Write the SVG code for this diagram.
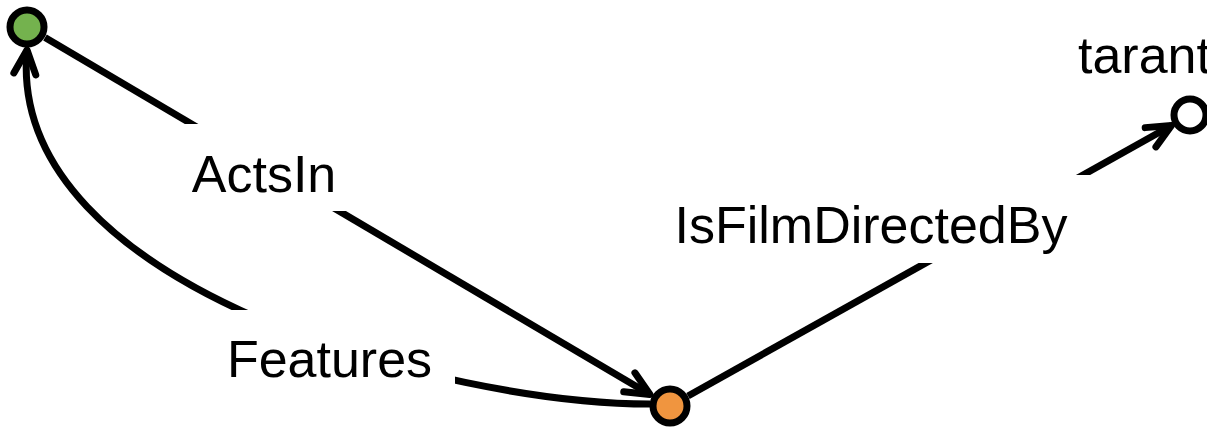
<svg xmlns="http://www.w3.org/2000/svg" width="1207" height="430" viewBox="0 0 1207 430">
  <style>
    .edge { fill: none; stroke: #000; stroke-width: 7; stroke-linecap: butt; }
    .lbl-bg { fill: #fff; stroke: none; }
    .lbl { font-family: "Liberation Sans", Arial, sans-serif; font-size: 52px; fill: #000; text-anchor: middle; }
    .node { stroke: #000; stroke-width: 7; }
  </style>
  <defs>
    <marker id="arrow" markerUnits="userSpaceOnUse" markerWidth="60" markerHeight="60" refX="0" refY="0" viewBox="-30 -30 60 60" orient="auto" overflow="visible">
      <path d="M-24,-11 L0,0 L-24,11" fill="none" stroke="#000" stroke-width="7" stroke-linecap="round" stroke-linejoin="round"/>
    </marker>
  </defs>
  <rect width="1207" height="430" fill="#fff"/>
  <g id="connectors">
    <g id="edge-actsin">
      <line class="edge" x1="45" y1="37.5" x2="650" y2="394.5" marker-end="url(#arrow)"/>
      <rect class="lbl-bg" x="169" y="124" width="190" height="87"/>
      <text class="lbl" x="264" y="192">ActsIn</text>
    </g>
    <g id="edge-features">
      <path class="edge" d="M650,404 C450,404 5,290 27,50" marker-end="url(#arrow)"/>
      <rect class="lbl-bg" x="204" y="310" width="251" height="86"/>
      <text class="lbl" x="329.5" y="377">Features</text>
    </g>
    <g id="edge-isfilmdirectedby">
      <line class="edge" x1="688" y1="396" x2="1171.5" y2="125.5" marker-end="url(#arrow)"/>
      <rect class="lbl-bg" x="649" y="175" width="447" height="88"/>
      <text class="lbl" x="871" y="243">IsFilmDirectedBy</text>
    </g>
  </g>
  <g id="node-actor">
    <circle class="node" cx="27" cy="27" r="17" fill="#74B24E"/>
  </g>
  <g id="node-film">
    <circle class="node" cx="670" cy="406" r="17" fill="#F0953F"/>
  </g>
  <g id="node-tarantino">
    <circle class="node" cx="1190" cy="115" r="16" fill="#fff"/>
    <text x="1078" y="73" font-family="'Liberation Sans', Arial, sans-serif" font-size="52" fill="#000">tarant</text>
  </g>
</svg>
